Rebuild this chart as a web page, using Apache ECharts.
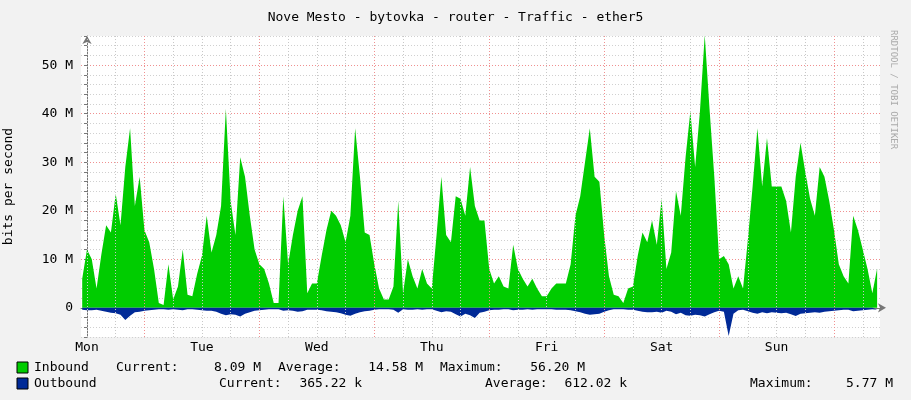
<!DOCTYPE html>
<html>
<head>
<meta charset="utf-8">
<script src="https://cdn.jsdelivr.net/npm/echarts@6/dist/echarts.min.js"></script>
<style>
html,body{margin:0;padding:0;background:#f2f2f2;}
#chart{width:911px;height:400px;}
</style>
</head>
<body>
<div id="chart"></div>
<script>
// hours since Monday 00:00, first sample is hour -1
var startHour = -1;
var dayNames = ['Mon', 'Tue', 'Wed', 'Thu', 'Fri', 'Sat', 'Sun'];
var yTicks = [0, 10, 20, 30, 40, 50];
// Mbit/s, one value per hour
var inbound = [
  6, 12, 10, 4, 11, 17, 15.5, 23.5, 17, 29, 37, 21, 27, 16, 13.5, 8, 1, 0.6, 9, 1.7, 4.4, 12, 2.7, 2.4, 7,
  10.7, 19, 11.4, 15, 21, 41, 22, 15, 31, 27, 19, 12, 9, 8, 5, 1, 1, 23, 9, 15, 20, 23, 3, 5,
  5, 10.7, 16, 20, 19, 17, 13.5, 19, 37, 27, 15.5, 15, 9, 4, 1.7, 1.7, 4.4, 22, 3, 10, 6.5, 4, 8, 5,
  4, 15, 27, 15, 13.5, 23, 22.5, 19, 29, 21, 18, 18, 8, 5, 6.5, 4.4, 4, 13, 8, 6, 4.4, 6, 4, 2.4,
  2.4, 4, 5, 5, 5, 9, 19, 23, 30, 37, 27, 26, 15, 6.5, 2.7, 2.4, 1, 4, 4.4, 10.7, 15.5, 13.5, 18, 13,
  22.5, 8, 11.4, 24, 19, 31, 40.5, 29, 40.5, 56.2, 41, 27, 10, 10.7, 9, 4, 6.5, 4, 14, 25, 37, 25, 35, 25,
  25, 25, 22, 15.5, 27, 34, 28, 22.5, 19, 29, 27, 22, 16, 9, 6.5, 5, 19, 16, 12, 8, 3, 8.09
];
var outbound = [
  0.4, 0.5, 0.5, 0.4, 0.6, 0.8, 1.0, 1.1, 1.4, 2.5, 1.6, 0.9, 0.8, 0.6, 0.5, 0.4, 0.3, 0.3, 0.4, 0.3, 0.4, 0.5, 0.3, 0.3, 0.4,
  0.5, 0.6, 0.6, 0.8, 1.2, 1.5, 1.3, 1.4, 1.8, 1.2, 0.9, 0.6, 0.5, 0.4, 0.3, 0.3, 0.3, 0.6, 0.5, 0.6, 0.8, 0.7, 0.4, 0.4,
  0.4, 0.5, 0.7, 0.8, 0.9, 1.1, 1.4, 1.6, 1.2, 0.9, 0.7, 0.6, 0.4, 0.3, 0.3, 0.3, 0.4, 1.0, 0.3, 0.4, 0.4, 0.3, 0.4, 0.3,
  0.3, 0.6, 0.9, 0.7, 0.8, 1.3, 1.8, 1.2, 1.5, 2.1, 1.0, 0.8, 0.5, 0.4, 0.4, 0.3, 0.3, 0.5, 0.4, 0.4, 0.3, 0.4, 0.3, 0.3,
  0.3, 0.3, 0.4, 0.4, 0.4, 0.5, 0.7, 0.9, 1.2, 1.4, 1.3, 1.2, 0.8, 0.5, 0.3, 0.3, 0.3, 0.4, 0.4, 0.6, 0.8, 0.9, 0.9, 0.8,
  1.0, 0.6, 0.8, 1.3, 1.0, 1.5, 1.6, 1.4, 1.5, 1.8, 1.3, 0.9, 0.6, 0.8, 5.77, 1.2, 0.5, 0.4, 0.7, 1.0, 1.2, 0.9, 1.1, 0.9,
  1.0, 1.1, 1.0, 1.3, 1.7, 1.2, 1.1, 1.0, 0.9, 1.0, 0.8, 0.7, 0.6, 0.5, 0.4, 0.4, 0.7, 0.6, 0.5, 0.4, 0.3, 0.37
];

var mono = 'DejaVu Sans Mono';
var inData = inbound.map(function (v, i) { return [startHour + i, v * 1e6]; });
var outData = outbound.map(function (v, i) { return [startHour + i, -v * 1e6]; });

var vLines = [];
for (var h = 0; h <= 162; h += 6) {
  var noon = h % 24 === 12;
  var line = {
    xAxis: h,
    lineStyle: { color: noon ? '#f09090' : '#c8c8c8', type: [1, 2], width: 1 },
    label: { show: false }
  };
  if (h % 24 === 0) {
    line.label = { show: true, position: 'start', formatter: dayNames[h / 24], color: '#000',
      fontFamily: mono, fontSize: 13, distance: 4 };
  }
  vLines.push(line);
}

var legendTexts = [
  ['Inbound', 34, 368, 'left'], ['Current:', 116, 368, 'left'], ['8.09 M', 261, 368, 'right'],
  ['Average:', 278, 368, 'left'], ['14.58 M', 423, 368, 'right'], ['Maximum:', 440, 368, 'left'], ['56.20 M', 585, 368, 'right'],
  ['Outbound', 34, 384, 'left'], ['Current:', 219, 384, 'left'], ['365.22 k', 362, 384, 'right'],
  ['Average:', 485, 384, 'left'], ['612.02 k', 627, 384, 'right'], ['Maximum:', 750, 384, 'left'], ['5.77 M', 893, 384, 'right']
];
var graphics = legendTexts.map(function (t) {
  return { type: 'text', x: t[1], y: t[2], style: { text: t[0], fill: '#000', font: '13px ' + mono,
    textAlign: t[3], textVerticalAlign: 'middle' } };
});
graphics.push({ type: 'rect', shape: { x: 17, y: 362, width: 11, height: 11 }, style: { fill: '#00cc00', stroke: '#000' } });
graphics.push({ type: 'rect', shape: { x: 17, y: 378, width: 11, height: 11 }, style: { fill: '#002a97', stroke: '#000' } });
graphics.push({ type: 'text', x: 898, y: 30, rotation: -Math.PI / 2,
  style: { text: 'RRDTOOL / TOBI OETIKER', fill: '#aaaaaa', font: '9px ' + mono } });

var option = {
  backgroundColor: '#f2f2f2',
  animation: false,
  title: {
    text: 'Nove Mesto - bytovka - router - Traffic - ether5',
    left: 'center', top: 6,
    textStyle: { fontFamily: mono, fontSize: 13, fontWeight: 'normal', color: '#000' }
  },
  grid: { left: 81, right: 31, top: 36, bottom: 63, backgroundColor: '#fff', show: true, borderWidth: 0,
    outerBoundsMode: 'none', containLabel: false },
  xAxis: {
    type: 'value', min: -1.25, max: 165.6,
    axisLine: { lineStyle: { color: '#777' }, symbol: ['none', 'arrow'], symbolSize: [7, 8], symbolOffset: [0, 6] },
    axisTick: { show: false }, axisLabel: { show: false }, splitLine: { show: false }
  },
  yAxis: {
    type: 'value', min: -6e6, max: 56e6, interval: 2e6,
    name: 'bits per second', nameLocation: 'middle', nameGap: 66,
    nameTextStyle: { fontFamily: mono, fontSize: 13, color: '#000' },
    axisLine: { show: true, lineStyle: { color: '#777' }, symbol: ['none', 'arrow'], symbolSize: [7, 8] },
    axisTick: { show: true, length: 3, lineStyle: { color: '#777' } },
    axisLabel: {
      fontFamily: mono, fontSize: 13, color: '#000', margin: 8,
      formatter: function (v) {
        var m = Math.round(v / 1e6);
        if (m < 0 || m % 10 !== 0 || yTicks.indexOf(m) < 0) return '';
        return m === 0 ? '0' : m + ' M';
      }
    },
    splitLine: { show: true, lineStyle: { type: [1, 2], color: ['#d0d0d0', '#d0d0d0', '#d0d0d0', '#f09090', '#d0d0d0'] } }
  },
  graphic: graphics,
  series: [
    {
      name: 'Inbound', type: 'line', data: inData, showSymbol: false,
      lineStyle: { width: 0 }, areaStyle: { color: '#00cc00', opacity: 1 },
      markLine: { silent: true, symbol: 'none', animation: false, data: vLines }
    },
    {
      name: 'Outbound', type: 'line', data: outData, showSymbol: false,
      lineStyle: { width: 0 }, areaStyle: { color: '#002a97', opacity: 1 }
    }
  ]
};
var chart = echarts.init(document.getElementById('chart'));
chart.setOption(option);
</script>
</body>
</html>
